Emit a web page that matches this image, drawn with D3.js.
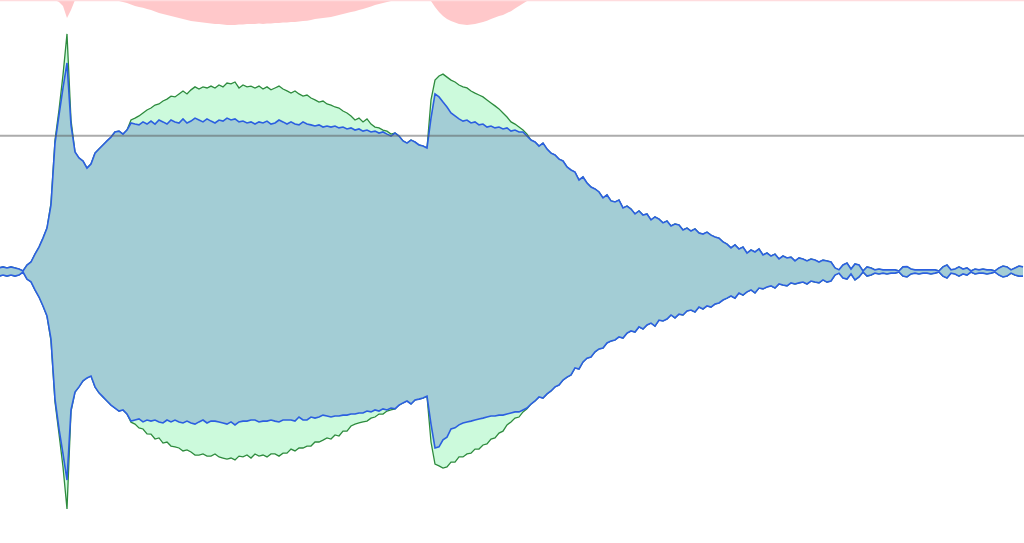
<!DOCTYPE html>
<html><head><meta charset="utf-8">
<script src="https://cdn.jsdelivr.net/npm/d3@7"></script>
<style>html,body{margin:0;padding:0;background:#fff;overflow:hidden}</style>
</head><body><svg id="chart" width="1024" height="543"></svg>
<script>
// Envelope data: one sample per bucket (257 buckets), amplitude in full-scale units
const blueTop = [
.013,.017,.013,.017,.013,.009,.002,.024,.035,.064,
.090,.123,.160,.245,.473,.576,.676,.768,.540,.440,
.418,.407,.381,.396,.436,.451,.466,.481,.495,.514,
.517,.506,.521,.547,.543,.540,.551,.543,.554,.543,
.558,.551,.543,.558,.551,.547,.562,.547,.554,.565,
.558,.551,.562,.554,.547,.558,.554,.565,.558,.562,
.551,.554,.547,.551,.543,.551,.547,.554,.543,.547,
.558,.551,.543,.551,.543,.540,.551,.543,.540,.536,
.540,.532,.536,.532,.536,.529,.532,.525,.529,.521,
.525,.517,.521,.514,.517,.510,.514,.506,.499,.510,
.499,.481,.473,.484,.477,.466,.462,.455,.565,.654,
.643,.624,.606,.584,.573,.562,.554,.558,.547,.551,
.540,.543,.532,.536,.529,.532,.525,.529,.517,.521,
.514,.514,.499,.484,.477,.462,.473,.451,.436,.429,
.414,.407,.385,.374,.366,.337,.348,.326,.311,.304,
.293,.271,.282,.260,.256,.263,.234,.241,.230,.212,
.223,.208,.212,.190,.201,.193,.179,.186,.168,.175,
.171,.153,.160,.149,.157,.142,.138,.145,.134,.127,
.123,.109,.101,.087,.098,.083,.090,.068,.079,.072,
.083,.061,.068,.057,.064,.046,.057,.050,.053,.039,
.050,.046,.039,.046,.042,.035,.042,.039,.035,.013,
.006,.024,.031,.009,.028,.024,.002,.017,.013,.006,
.009,.006,.006,.006,.006,.002,.017,.018,.009,.006,
.006,.006,.006,.006,.006,.002,.017,.024,.006,.009,
.017,.009,.013,.002,.009,.006,.009,.006,.006,.002,
.013,.020,.017,.006,.013,.020,.017];

const blueBottom = [
.017,.013,.017,.013,.017,.013,.002,.028,.038,.068,
.094,.127,.164,.249,.470,.580,.672,.768,.510,.444,
.425,.403,.392,.385,.425,.447,.462,.477,.492,.503,
.514,.510,.525,.551,.547,.543,.554,.547,.551,.547,
.554,.558,.547,.554,.547,.554,.558,.551,.558,.562,
.554,.547,.558,.551,.551,.554,.558,.562,.554,.565,
.554,.551,.551,.547,.547,.554,.551,.551,.547,.551,
.554,.547,.547,.547,.551,.536,.547,.547,.536,.540,
.536,.529,.532,.536,.532,.532,.529,.529,.525,.525,
.521,.521,.514,.517,.510,.514,.506,.510,.503,.506,
.492,.484,.477,.488,.473,.470,.466,.459,.562,.650,
.646,.620,.610,.580,.576,.565,.558,.554,.551,.547,
.543,.540,.536,.532,.532,.529,.529,.525,.521,.517,
.517,.510,.503,.488,.477,.462,.466,.451,.440,.425,
.418,.400,.389,.381,.355,.359,.333,.319,.315,.296,
.285,.282,.263,.256,.252,.241,.245,.227,.219,.223,
.204,.212,.197,.190,.201,.179,.182,.175,.160,.171,
.157,.160,.145,.142,.149,.131,.138,.127,.131,.120,
.116,.105,.098,.090,.098,.079,.087,.075,.068,.079,
.061,.064,.057,.053,.061,.046,.050,.053,.042,.046,
.042,.039,.046,.035,.039,.042,.031,.039,.035,.013,
.006,.024,.028,.009,.031,.020,.002,.017,.013,.006,
.009,.006,.009,.006,.006,.002,.017,.020,.009,.006,
.009,.006,.006,.009,.006,.002,.017,.024,.006,.009,
.017,.009,.013,.002,.009,.006,.006,.009,.006,.002,
.013,.020,.017,.006,.013,.017,.017];

const greenTop = [
.013,.017,.013,.017,.013,.009,.002,.024,.035,.064,
.090,.123,.160,.252,.484,.595,.724,.875,.558,.440,
.418,.407,.381,.396,.436,.451,.466,.481,.495,.514,
.517,.506,.521,.558,.565,.573,.584,.595,.602,.613,
.617,.628,.635,.646,.643,.654,.665,.654,.669,.680,
.672,.680,.676,.683,.676,.687,.680,.694,.691,.698,
.676,.687,.680,.683,.676,.683,.672,.680,.669,.676,
.683,.672,.665,.657,.665,.654,.646,.650,.639,.632,
.624,.628,.617,.613,.606,.602,.591,.584,.573,.558,
.565,.551,.562,.543,.532,.529,.521,.517,.506,.510,
.499,.481,.473,.484,.477,.466,.462,.455,.632,.705,
.720,.727,.716,.705,.698,.687,.680,.676,.665,.657,
.650,.643,.632,.621,.610,.599,.584,.569,.551,.543,
.532,.521,.506,.484,.477,.462,.473,.451,.436,.429,
.414,.407,.385,.374,.366,.337,.348,.326,.311,.304,
.293,.271,.282,.260,.256,.263,.234,.241,.230,.212,
.223,.208,.212,.190,.201,.193,.179,.186,.168,.175,
.171,.153,.160,.149,.157,.142,.138,.145,.134,.127,
.123,.109,.101,.087,.098,.083,.090,.068,.079,.072,
.083,.061,.068,.057,.064,.046,.057,.050,.053,.039,
.050,.046,.039,.046,.042,.035,.042,.039,.035,.013,
.006,.024,.031,.009,.028,.024,.002,.017,.013,.006,
.009,.006,.006,.006,.006,.002,.017,.018,.009,.006,
.006,.006,.006,.006,.006,.002,.017,.024,.006,.009,
.017,.009,.013,.002,.009,.006,.009,.006,.006,.002,
.013,.020,.017,.006,.013,.020,.017];

const greenBottom = [
.017,.013,.017,.013,.017,.013,.002,.028,.038,.068,
.094,.127,.164,.256,.480,.598,.720,.875,.515,.444,
.425,.403,.392,.385,.425,.447,.462,.477,.492,.503,
.514,.510,.525,.555,.562,.576,.580,.598,.599,.617,
.613,.632,.628,.643,.646,.650,.661,.657,.665,.676,
.676,.672,.680,.680,.672,.683,.687,.691,.687,.694,
.680,.683,.676,.687,.672,.680,.676,.683,.672,.672,
.680,.669,.669,.654,.661,.650,.650,.643,.643,.628,
.628,.621,.613,.617,.602,.606,.588,.588,.569,.562,
.558,.554,.551,.540,.536,.525,.525,.514,.510,.506,
.492,.484,.477,.488,.473,.470,.466,.459,.628,.709,
.716,.724,.720,.702,.702,.683,.683,.672,.669,.654,
.654,.639,.635,.617,.613,.595,.588,.565,.554,.540,
.536,.517,.506,.488,.477,.462,.466,.451,.440,.425,
.418,.400,.389,.381,.355,.359,.333,.319,.315,.296,
.285,.282,.263,.256,.252,.241,.245,.227,.219,.223,
.204,.212,.197,.190,.201,.179,.182,.175,.160,.171,
.157,.160,.145,.142,.149,.131,.138,.127,.131,.120,
.116,.105,.098,.090,.098,.079,.087,.075,.068,.079,
.061,.064,.057,.053,.061,.046,.050,.053,.042,.046,
.042,.039,.046,.035,.039,.042,.031,.039,.035,.013,
.006,.024,.028,.009,.031,.020,.002,.017,.013,.006,
.009,.006,.009,.006,.006,.002,.017,.020,.009,.006,
.009,.006,.006,.009,.006,.002,.017,.024,.006,.009,
.017,.009,.013,.002,.009,.006,.006,.009,.006,.002,
.013,.020,.017,.006,.013,.017,.017];

// Overflow envelope shown from the top edge (first 133 buckets; zero afterwards)
const overflow = [
0,0,0,0,0,0,0,0,0,0,
0,0,0,0,0,.007,.022,.066,.037,0,
0,0,0,0,0,0,0,0,0,.004,
.004,.007,.011,.017,.022,.026,.029,.033,.037,.042,
.048,.052,.055,.059,.063,.066,.070,.074,.077,.079,
.081,.083,.085,.087,.088,.088,.090,.092,.092,.092,
.090,.090,.088,.088,.088,.087,.088,.087,.087,.085,
.085,.083,.083,.081,.081,.079,.077,.076,.074,.070,
.068,.066,.064,.063,.059,.055,.052,.048,.044,.041,
.037,.033,.029,.024,.018,.015,.011,.007,.004,.002,
0,0,0,0,0,0,0,0,.004,.026,
.044,.059,.070,.077,.083,.088,.090,.092,.090,.088,
.085,.081,.076,.070,.064,.059,.055,.048,.041,.031,
.022,.013,.004];

const threshold = 0.5;
const bucketCount = 256;

const W = 1024, H = 543;
const svg = d3.select('#chart');
const x = d3.scaleLinear().domain([0, bucketCount]).range([-1, W - 1]);
const y = d3.scaleLinear().domain([-1, 1]).range([H, 0]);
const oy = d3.scaleLinear().domain([0, 1]).range([0, H / 2]);

function envArea(top, bottom) {
  return d3.area()
    .x((d, i) => x(i))
    .y0((d, i) => y(-bottom[i]))
    .y1((d, i) => y(top[i]))(top);
}
const lineTop = d3.line().x((d, i) => x(i)).y(d => y(d));
const lineBot = d3.line().x((d, i) => x(i)).y(d => y(-d));

// overflow (pink) from top
svg.append('path')
  .attr('d', d3.area().x((d, i) => x(i)).y0(oy(0)).y1(d => oy(d))(overflow))
  .attr('fill', '#ffc8ca');
svg.append('line')
  .attr('x1', 0).attr('x2', W).attr('y1', 0.5).attr('y2', 0.5)
  .attr('stroke', '#ffdcde').attr('stroke-width', 1.5);

// green envelope
svg.append('path').attr('d', envArea(greenTop, greenBottom)).attr('fill', '#ccfadc');
svg.append('path').attr('d', lineTop(greenTop)).attr('fill', 'none').attr('stroke', '#2e8b3e').attr('stroke-width', 1.3);
svg.append('path').attr('d', lineBot(greenBottom)).attr('fill', 'none').attr('stroke', '#2e8b3e').attr('stroke-width', 1.3);

// blue envelope
svg.append('path').attr('d', envArea(blueTop, blueBottom)).attr('fill', '#a3cdd5');
svg.append('path').attr('d', lineTop(blueTop)).attr('fill', 'none').attr('stroke', '#2b5fe0').attr('stroke-width', 1.6);
svg.append('path').attr('d', lineBot(blueBottom)).attr('fill', 'none').attr('stroke', '#2b5fe0').attr('stroke-width', 1.6);

// threshold line
svg.append('line')
  .attr('x1', 0).attr('x2', W)
  .attr('y1', y(threshold)).attr('y2', y(threshold))
  .attr('stroke', 'rgba(90,90,90,0.5)').attr('stroke-width', 2);
</script>
</body></html>
